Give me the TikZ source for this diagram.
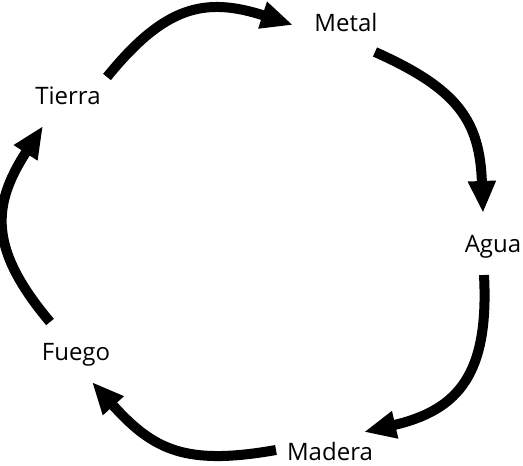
\documentclass[tikz,border=0pt]{standalone}
\usepackage{fontspec}
\setmainfont{Open Sans}
\usetikzlibrary{arrows.meta}

\tikzset{
	elemento/.style={anchor=base, inner sep=0pt, font=\fontsize{24}{28}\selectfont},
	flecha/.style={line width=10pt, -{Triangle[length=32pt,width=26pt]}}
}

\begin{document}
\begin{tikzpicture}[x=1pt,y=1pt]
			\useasboundingbox (0,0) rectangle (523,466);

			\node[elemento] (metal) at (346,434) {Metal};
			\node[elemento] (agua) at (493,213) {Agua};
			\node[elemento] (madera) at (330,5) {Madera};
			\node[elemento] (fuego) at (76,105) {Fuego};
			\node[elemento] (tierra) at (68,361) {Tierra};

			% extremos de las flechas
			\coordinate (tierra-out) at (107,389);
			\coordinate (metal-in) at (293,441);
			\coordinate (metal-out) at (375,414);
			\coordinate (agua-in) at (483,253);
			\coordinate (agua-out) at (484,191);
			\coordinate (madera-in) at (364,34);
			\coordinate (madera-out) at (276,16);
			\coordinate (fuego-in) at (92,84);
			\coordinate (fuego-out) at (50,144);
			\coordinate (tierra-in) at (43,340);

				\draw[flecha] (tierra-out) to[out=51,in=162,looseness=1.22] (metal-in);
				\draw[flecha] (metal-out) to[out=-24,in=92,looseness=1.21] (agua-in);
				\draw[flecha] (agua-out) to[out=-87,in=13,looseness=1.27] (madera-in);
				\draw[flecha] (madera-out) to[out=190,in=-48,looseness=1.2] (fuego-in);
				\draw[flecha] (fuego-out) to[out=130,in=237,looseness=1.24] (tierra-in);

		\end{tikzpicture}
\end{document}
